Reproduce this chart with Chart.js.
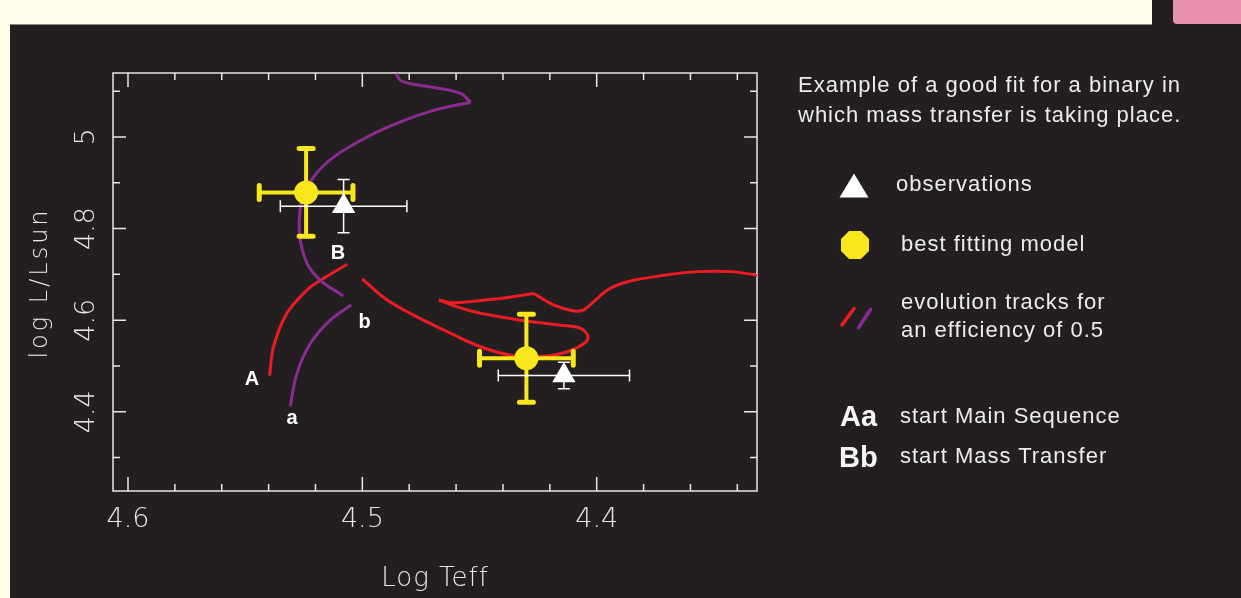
<!DOCTYPE html>
<html>
<head>
<meta charset="utf-8">
<script src="https://cdn.jsdelivr.net/npm/chart.js@4.4.1/dist/chart.umd.min.js"></script>
<style>
  html, body { margin: 0; padding: 0; }
  body { width: 1241px; height: 598px; background: #fffdea; position: relative; overflow: hidden;
         font-family: "Liberation Sans", Arial, sans-serif; }
  #panel { position: absolute; left: 10px; top: 25px; width: 1231px; height: 573px; background: #231f20; }
  #rule { position: absolute; left: 10px; top: 24px; width: 1142px; height: 1px; background: #8b8a7c; }
  #tab { position: absolute; left: 1152px; top: 0; width: 89px; height: 25px; background: #231f20; }
  #tabInner { position: absolute; left: 1173px; top: 0; width: 68px; height: 24px; background: #e98fb0;
              border-bottom-left-radius: 4px; }
  #wrap { position: absolute; left: 0; top: 0; width: 1241px; height: 598px; }
  .note { position: absolute; color: #ececec; font-size: 22px; letter-spacing: 1px; line-height: 30px; white-space: nowrap; }
  .key { position: absolute; color: #f6f6f6; font-weight: bold; font-size: 29px; line-height: 30px; white-space: nowrap; }
  #marks { position: absolute; left: 0; top: 0; }
</style>
</head>
<body>
<div id="panel"></div>
<div id="rule"></div>
<div id="tab"></div>
<div id="tabInner"></div>
<div id="wrap"><canvas id="hrd"></canvas></div>

<div class="note" style="left:798px; top:70px;">Example of a good fit for a binary in<br>which mass transfer is taking place.</div>
<div class="note" style="left:896px; top:169px;">observations</div>
<div class="note" style="left:901px; top:229px;">best fitting model</div>
<div class="note" style="left:901px; top:288px; line-height:28px;">evolution tracks for<br>an efficiency of 0.5</div>
<div class="key" style="left:840px; top:401px;">Aa</div>
<div class="key" style="left:839px; top:442px;">Bb</div>
<div class="note" style="left:900px; top:401px;">start Main Sequence</div>
<div class="note" style="left:900px; top:441px;">start Mass Transfer</div>
<svg id="marks" width="1241" height="598">
  <polygon points="839.5,197.5 868.5,197.5 854,173.5" fill="#ffffff"/>
  <polygon points="861,231 869,239 869,251 861,259 849,259 841,251 841,239 849,231" fill="#f8e71c"/>
  <line x1="842" y1="325" x2="854" y2="308.5" stroke="#ed1c24" stroke-width="3.5" stroke-linecap="round"/>
  <line x1="858.5" y1="328" x2="870.5" y2="309.5" stroke="#8a2c91" stroke-width="3.5" stroke-linecap="round"/>
</svg>

<script>
// Binary star in the HR diagram: observed vs best fitting model, with evolution tracks

// Evolution track of the primary (red, A -> B ...), null = break in the line
const redTrackTeff = [4.5396, 4.5379, 4.5322, 4.5236, 4.5179, 4.5065, null,
    4.5001, 4.4894, 4.4781, 4.4638, 4.4496, 4.4353, 4.4211, 4.4125, 4.4054, 4.4037, 4.4068,
    4.4154, 4.4325, 4.4496, 4.4595, 4.4674, null,
    4.4674, 4.4610, 4.4424, 4.4268, null,
    4.4268, 4.4182, 4.4097, 4.4054, 4.3954, 4.3869, 4.3712, 4.3570, 4.3427, 4.3313];
const redTrackLum = [4.479, 4.542, 4.615, 4.666, 4.687, 4.722, null,
    4.690, 4.644, 4.611, 4.575, 4.542, 4.522, 4.522, 4.531, 4.549, 4.564, 4.582,
    4.589, 4.600, 4.615, 4.629, 4.644, null,
    4.644, 4.638, 4.647, 4.658, null,
    4.658, 4.633, 4.620, 4.623, 4.666, 4.684, 4.698, 4.706, 4.706, 4.698];

// Evolution track of the secondary (purple, a -> b ...)
const purpleTrackTeff = [4.5308, 4.5279, 4.5222, 4.5137, 4.5048, null,
    4.5082, 4.5179, 4.5236, 4.5265, 4.5269, 4.5258, 4.5208, 4.5123, 4.4980, 4.4838, 4.4695, 4.4538, null,
    4.4538, 4.4581, 4.4695, 4.4781, 4.4838, 4.4855];
const purpleTrackLum = [4.412, 4.484, 4.549, 4.600, 4.633, null,
    4.653, 4.687, 4.724, 4.775, 4.818, 4.862, 4.913, 4.956, 5.000, 5.033, 5.058, 5.076, null,
    5.076, 5.095, 5.108, 5.115, 5.124, 5.138];

// Observations (white triangles) and their errors
const obsTeff = [4.508, 4.414];
const obsLum = [4.849, 4.479];
const obsTeffErr = [0.027, 0.028];
const obsLumErr = [0.058, 0.029];

// Best fitting model (yellow dots) and their errors
const modelTeff = [4.524, 4.430];
const modelLum = [4.879, 4.517];
const modelTeffErr = [0.020, 0.020];
const modelLumErr = [0.096, 0.096];

// Axes
const xTicks = [4.6, 4.5, 4.4];
const xTickLabels = ['4.6', '4.5', '4.4'];
const xMinorTicks = [4.58, 4.56, 4.54, 4.52, 4.48, 4.46, 4.44, 4.42, 4.38, 4.36, 4.34];
const yTicks = [4.4, 4.6, 4.8, 5.0];
const yTickLabels = ['4.4', '4.6', '4.8', '5'];
const yMinorTicks = [4.3, 4.5, 4.7, 4.9, 5.1];

// Track start labels (text, Teff, log L)
const pointLabels = ['A', 'a', 'B', 'b'];
const pointLabelTeff = [4.5471, 4.5300, 4.5104, 4.4990];
const pointLabelLum = [4.458, 4.373, 4.7325, 4.582];

const axisColor = '#e8e8e8';
const thinFont = "'DejaVu Sans ExtraLight', 'DejaVu Sans'";

function toPoints(xs, ys) {
    return xs.map((v, i) => ({ x: v, y: ys[i] }));
}

// Frame with inward ticks on all four sides
const frameAxes = {
    id: 'frameAxes',
    beforeDatasetsDraw(chart) {
        const { ctx, chartArea: a, scales: { x, y } } = chart;
        ctx.save();
        ctx.strokeStyle = axisColor;
        ctx.lineWidth = 1.5;
        ctx.strokeRect(a.left, a.top, a.right - a.left, a.bottom - a.top);
        ctx.beginPath();
        const xTick = (v, len) => {
            const px = x.getPixelForValue(v);
            ctx.moveTo(px, a.bottom); ctx.lineTo(px, a.bottom - len);
            ctx.moveTo(px, a.top); ctx.lineTo(px, a.top + len);
        };
        const yTick = (v, len) => {
            const py = y.getPixelForValue(v);
            ctx.moveTo(a.left, py); ctx.lineTo(a.left + len, py);
            ctx.moveTo(a.right, py); ctx.lineTo(a.right - len, py);
        };
        xTicks.forEach(v => xTick(v, 14));
        xMinorTicks.forEach(v => xTick(v, 7));
        yTicks.forEach(v => yTick(v, 13));
        yMinorTicks.forEach(v => yTick(v, 7));
        ctx.stroke();
        ctx.restore();
    },
    afterDraw(chart) {
        const { ctx, chartArea: a, scales: { x, y } } = chart;
        ctx.save();
        ctx.fillStyle = axisColor;
        ctx.textAlign = 'center';

        ctx.font = '200 27px ' + thinFont;
        ctx.textBaseline = 'alphabetic';
        xTicks.forEach((v, i) => ctx.fillText(xTickLabels[i], x.getPixelForValue(v), 527));

        yTicks.forEach((v, i) => {
            ctx.save();
            ctx.translate(94, y.getPixelForValue(v));
            ctx.rotate(-Math.PI / 2);
            ctx.fillText(yTickLabels[i], 0, 0);
            ctx.restore();
        });

        ctx.font = '200 26px ' + thinFont;
        ctx.letterSpacing = '1px';
        ctx.fillText('Log Teff', (a.left + a.right) / 2 - 0, 586);

        ctx.font = '200 24px ' + thinFont;
        ctx.letterSpacing = '3px';
        ctx.save();
        ctx.translate(47, 283);
        ctx.rotate(-Math.PI / 2);
        ctx.fillText('log L/Lsun', 0, 0);
        ctx.restore();

        ctx.letterSpacing = '0px';
        ctx.fillStyle = '#ffffff';
        ctx.font = "bold 20px 'Liberation Sans', Arial, sans-serif";
        pointLabels.forEach((t, i) => {
            ctx.fillText(t, x.getPixelForValue(pointLabelTeff[i]), y.getPixelForValue(pointLabelLum[i]));
        });
        ctx.restore();
    }
};

// Error bars, drawn just beneath their own dataset
const errorBars = {
    id: 'errorBars',
    beforeDatasetDraw(chart, args) {
        const ds = chart.data.datasets[args.index];
        if (!ds.errX) return;
        const { ctx, scales: { x, y } } = chart;
        ctx.save();
        ctx.strokeStyle = ds.errColor;
        ctx.lineCap = ds.errCap;
        ds.data.forEach((p, i) => {
            const px = x.getPixelForValue(p.x);
            const py = y.getPixelForValue(p.y);
            const x1 = x.getPixelForValue(p.x + ds.errX[i]);
            const x2 = x.getPixelForValue(p.x - ds.errX[i]);
            const y1 = y.getPixelForValue(p.y + ds.errY[i]);
            const y2 = y.getPixelForValue(p.y - ds.errY[i]);
            const c = ds.errCapSize / 2;
            ctx.lineWidth = ds.errWidth;
            ctx.beginPath();
            ctx.moveTo(x1, py); ctx.lineTo(x2, py);
            ctx.moveTo(px, y1); ctx.lineTo(px, y2);
            ctx.stroke();
            ctx.lineWidth = ds.errCapWidth;
            ctx.beginPath();
            ctx.moveTo(x1, py - c); ctx.lineTo(x1, py + c);
            ctx.moveTo(x2, py - c); ctx.lineTo(x2, py + c);
            ctx.moveTo(px - c, y1); ctx.lineTo(px + c, y1);
            ctx.moveTo(px - c, y2); ctx.lineTo(px + c, y2);
            ctx.stroke();
        });
        ctx.restore();
    }
};

new Chart(document.getElementById('hrd'), {
    type: 'scatter',
    data: {
        datasets: [
            {
                label: 'observations',
                data: toPoints(obsTeff, obsLum),
                errX: obsTeffErr, errY: obsLumErr,
                errColor: '#ffffff', errWidth: 1.5, errCapWidth: 1.5, errCapSize: 12, errCap: 'butt',
                pointStyle: 'triangle',
                pointRadius: 13.5,
                backgroundColor: '#ffffff',
                borderWidth: 0
            },
            {
                label: 'best fitting model',
                data: toPoints(modelTeff, modelLum),
                errX: modelTeffErr, errY: modelLumErr,
                errColor: '#f8e71c', errWidth: 4, errCapWidth: 5, errCapSize: 14, errCap: 'round',
                pointStyle: 'circle',
                pointRadius: 12,
                backgroundColor: '#f8e71c',
                borderWidth: 0
            },
            {
                label: 'track b',
                data: toPoints(purpleTrackTeff, purpleTrackLum),
                showLine: true,
                spanGaps: false,
                borderColor: '#8a2c91',
                borderWidth: 3,
                tension: 0.35,
                pointRadius: 0
            },
            {
                label: 'track a',
                data: toPoints(redTrackTeff, redTrackLum),
                showLine: true,
                spanGaps: false,
                borderColor: '#ed1c24',
                borderWidth: 3,
                tension: 0.35,
                pointRadius: 0
            }
        ]
    },
    options: {
        responsive: true,
        maintainAspectRatio: false,
        animation: false,
        layout: { padding: { left: 113, top: 73, right: 484, bottom: 107 } },
        plugins: {
            legend: { display: false },
            tooltip: { enabled: false }
        },
        scales: {
            x: { type: 'linear', display: false, reverse: true, min: 4.3316, max: 4.6064 },
            y: { type: 'linear', display: false, min: 4.227, max: 5.1397 }
        }
    },
    plugins: [frameAxes, errorBars]
});
</script>
</body>
</html>
